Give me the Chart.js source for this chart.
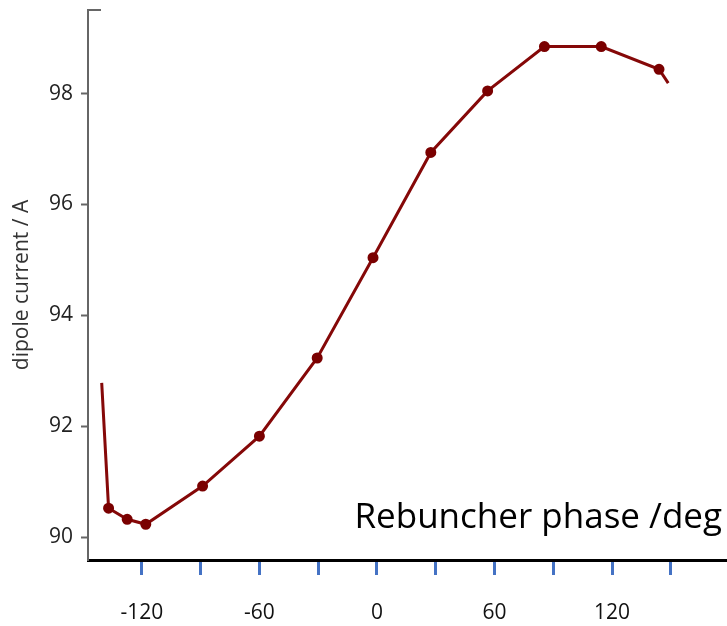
<!DOCTYPE html>
<html>
<head>
<meta charset="utf-8">
<title>Rebuncher phase scan</title>
<script src="https://cdn.jsdelivr.net/npm/chart.js@4.4.1/dist/chart.umd.min.js"></script>
<style>
  html, body { margin: 0; padding: 0; background: #fff; }
  #wrap { width: 727px; height: 626px; }
</style>
</head>
<body>
<div id="wrap"><canvas id="scan" width="727" height="626"></canvas></div>
<script>
// phase scan: rebuncher phase (deg) vs dipole current (A)
const phaseDeg = [-140.5, -137, -127.5, -118, -89, -60, -30.5, -2, 27.5, 56.5, 85.5, 114.5, 144, 148.7];
const dipoleCurrent = [92.78, 90.52, 90.32, 90.23, 90.92, 91.82, 93.23, 95.04, 96.94, 98.05, 98.85, 98.85, 98.44, 98.19];

const xTickValues = [-120, -90, -60, -30, 0, 30, 60, 90, 120, 150];
const xTickLabels = ['-120', '', '-60', '', '0', '', '60', '', '120', ''];
const yTickValues = [90, 92, 94, 96, 98];

const FONT = "'Open Sans', sans-serif";

// small cap at the top of the y axis + the big axis caption
const decorations = {
    id: 'decorations',
    afterDraw(chart) {
        const { ctx, chartArea } = chart;
        ctx.save();
        ctx.strokeStyle = '#666';
        ctx.lineWidth = 2;
        ctx.beginPath();
        ctx.moveTo(chartArea.left, chartArea.top);
        ctx.lineTo(chartArea.left + 13, chartArea.top);
        ctx.stroke();

        ctx.fillStyle = '#000';
        ctx.font = '35px ' + FONT;
        ctx.textAlign = 'right';
        ctx.textBaseline = 'alphabetic';
        ctx.fillText('Rebuncher phase /deg', chartArea.right - 5, chartArea.bottom - 32);
        ctx.restore();
    }
};

new Chart(document.getElementById('scan'), {
    type: 'line',
    data: {
        datasets: [{
            data: phaseDeg.map((x, i) => ({ x: x, y: dipoleCurrent[i] })),
            borderColor: '#850808',
            borderWidth: 3,
            pointBackgroundColor: '#7a0000',
            pointBorderColor: '#7a0000',
            // first and last entries are only where the trace runs off
            pointRadius: phaseDeg.map((_, i) => (i === 0 || i === phaseDeg.length - 1) ? 0 : 4),
            tension: 0
        }]
    },
    options: {
        responsive: false,
        animation: false,
        layout: { padding: { top: 10, right: 0, left: 0, bottom: 0 } },
        plugins: {
            legend: { display: false },
            tooltip: { enabled: false }
        },
        scales: {
            x: {
                type: 'linear',
                min: -147.5,
                max: 178.7,
                afterBuildTicks: (scale) => { scale.ticks = xTickValues.map(v => ({ value: v })); },
                afterFit: (scale) => { scale.height = 66; scale.paddingLeft = 0; scale.paddingRight = 0; },
                ticks: {
                    autoSkip: false,
                    maxRotation: 0,
                    padding: 25,
                    color: '#111',
                    font: { family: FONT, size: 21 },
                    callback: (v) => xTickLabels[xTickValues.indexOf(v)] ?? ''
                },
                grid: {
                    drawOnChartArea: false,
                    drawTicks: true,
                    tickLength: 15,
                    tickColor: '#4472c4',
                    tickWidth: 3
                },
                border: { display: true, color: '#000', width: 3 }
            },
            y: {
                min: 89.585,
                max: 99.51,
                afterBuildTicks: (scale) => { scale.ticks = yTickValues.map(v => ({ value: v })); },
                afterFit: (scale) => { scale.width = 88; scale.paddingTop = 0; scale.paddingBottom = 0; },
                ticks: {
                    padding: 8,
                    color: '#222',
                    font: { family: FONT, size: 21 }
                },
                grid: {
                    drawOnChartArea: false,
                    drawTicks: true,
                    tickLength: 7,
                    tickColor: '#666',
                    tickWidth: 2
                },
                border: { display: true, color: '#666', width: 2 },
                title: {
                    display: true,
                    text: 'dipole current / A',
                    color: '#333',
                    font: { family: FONT, size: 21 },
                    padding: { top: 9, bottom: 0 }
                }
            }
        }
    },
    plugins: [decorations]
});
</script>
</body>
</html>
